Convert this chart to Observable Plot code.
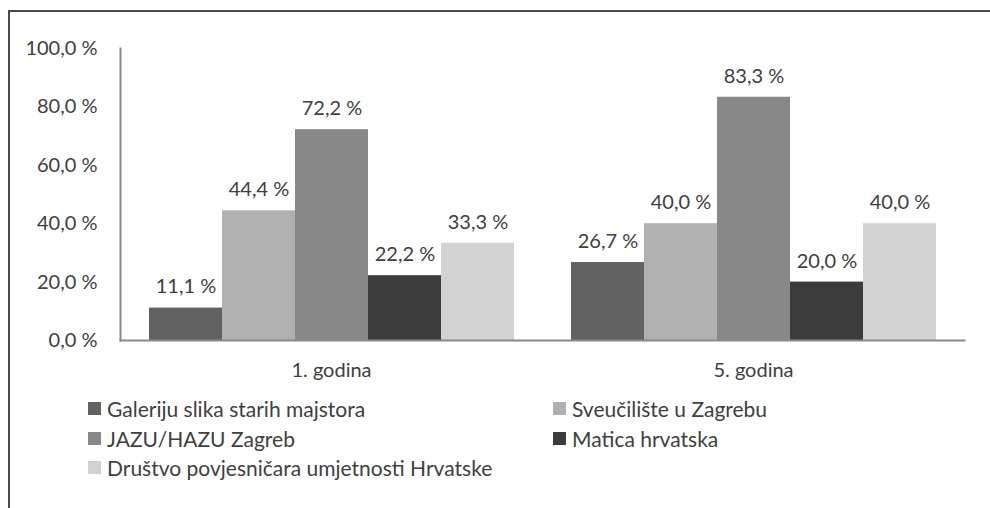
<!DOCTYPE html>
<html>
<head>
<meta charset="utf-8">
<script src="https://cdn.jsdelivr.net/npm/d3@7"></script>
<script src="https://cdn.jsdelivr.net/npm/@observablehq/plot@0.6"></script>
<style>
  html, body { margin: 0; padding: 0; background: #fff; }
  #wrap { position: relative; width: 990px; height: 508px; overflow: hidden; font-family: Lato, "Noto Sans", sans-serif; color: #404040; }
  #border { position: absolute; left: 8px; top: 10px; width: 1200px; height: 800px; border-left: 2px solid #4a4a4a; border-top: 2px solid #4a4a4a; }
  #chart { position: absolute; left: 0; top: 0; }
  #legend { position: absolute; left: 0; top: 0; }
  .item { position: absolute; font-size: 21px; line-height: 21px; white-space: nowrap; }
  .sw { position: absolute; width: 13px; height: 13px; }
</style>
</head>
<body>
<div id="wrap">
  <div id="border"></div>
  <div id="chart"></div>
  <div id="legend"></div>
</div>
<script>
const groups = ["1. godina", "5. godina"];
const series = [
  "Galeriju slika starih majstora",
  "Sveučilište u Zagrebu",
  "JAZU/HAZU Zagreb",
  "Matica hrvatska",
  "Društvo povjesničara umjetnosti Hrvatske"
];
const values1 = [11.1, 44.4, 72.2, 22.2, 33.3];
const values5 = [26.7, 40.0, 83.3, 20.0, 40.0];
const colors = ["#626262", "#b0b0b0", "#888888", "#3c3c3c", "#d2d2d2"];
const yTicks = [0, 20, 40, 60, 80, 100];

const data = [];
series.forEach((s, i) => {
  data.push({group: groups[0], series: s, value: values1[i]});
  data.push({group: groups[1], series: s, value: values5[i]});
});
const fmt = v => v.toFixed(1).replace(".", ",") + " %";

const plot = Plot.plot({
  width: 990,
  height: 390,
  marginLeft: 120,
  marginRight: 26,
  marginTop: 48,
  marginBottom: 50,
  style: {fontFamily: "Lato, 'Noto Sans', sans-serif", fontSize: "20px", color: "#404040", background: "transparent"},
  fx: {domain: groups, paddingInner: 0, paddingOuter: 0, axis: "bottom", tickSize: 0, tickPadding: 22, label: null, fontSize: 21},
  x: {domain: series, paddingInner: 0, paddingOuter: 0.375, axis: null},
  y: {domain: [0, 100], ticks: yTicks, tickFormat: fmt, tickSize: 0, tickPadding: 23, label: null},
  color: {domain: series, range: colors},
  marks: [
    Plot.barY(data, {fx: "group", x: "series", y: "value", fill: "series"}),
    Plot.text(data, {fx: "group", x: "series", y: "value", text: d => fmt(d.value), dy: -21, fill: "#404040"}),
    Plot.frame({anchor: "bottom", facet: "super", stroke: "#8a8a8a", strokeWidth: 2}),
    Plot.frame({anchor: "left", facet: "super", stroke: "#8a8a8a", strokeWidth: 2})
  ]
});
document.getElementById("chart").appendChild(plot);

// Legend: two columns, rows as in the reference
const legend = document.getElementById("legend");
const colX = [88, 553];
const rowY = [401, 431, 460];
series.forEach((s, i) => {
  const col = i % 2, row = Math.floor(i / 2);
  const sw = document.createElement("div");
  sw.className = "sw";
  sw.style.left = colX[col] + "px";
  sw.style.top = (rowY[row] + 1) + "px";
  sw.style.background = colors[i];
  legend.appendChild(sw);
  const t = document.createElement("div");
  t.className = "item";
  t.style.left = (colX[col] + 19) + "px";
  t.style.top = (rowY[row] - 3) + "px";
  t.textContent = s;
  legend.appendChild(t);
});
</script>
</body>
</html>
